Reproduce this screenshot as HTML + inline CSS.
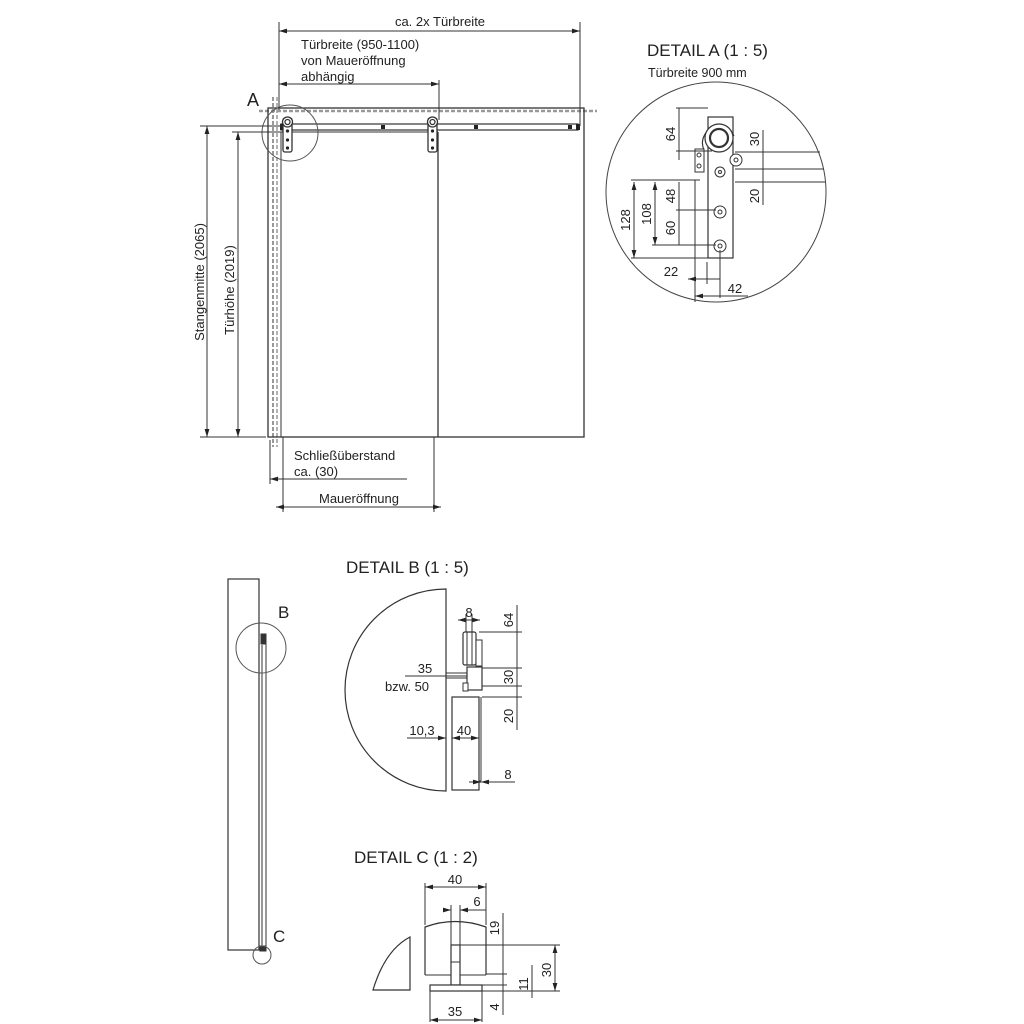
<!DOCTYPE html>
<html><head><meta charset="utf-8"><style>
html,body{margin:0;padding:0;background:#fff;}
svg{display:block;}
text{font-family:"Liberation Sans",sans-serif;fill:#222;}
</style></head><body>
<svg width="1024" height="1024" viewBox="0 0 1024 1024" xmlns="http://www.w3.org/2000/svg">
<defs>
<marker id="ar" viewBox="0 0 10 6" refX="10" refY="3" markerWidth="8" markerHeight="5" orient="auto-start-reverse"><path d="M0,0 L10,3 L0,6 z" fill="#222"/></marker>
</defs>
<g stroke="#333" stroke-width="1" fill="none">
<!-- MAIN -->
<line x1="259" y1="111" x2="597" y2="111" stroke="#999" stroke-width="2.5" stroke-dasharray="4,2"/>
<line x1="273" y1="97" x2="273" y2="447" stroke="#999" stroke-width="2" stroke-dasharray="4,2"/>
<line x1="277" y1="97" x2="277" y2="447" stroke="#999" stroke-width="1.5" stroke-dasharray="4,2"/>
<rect x="268" y="108" width="316" height="329" stroke-width="1.3"/>
<rect x="281" y="124" width="297" height="6" stroke-width="1.2"/>
<line x1="281" y1="132" x2="281" y2="437"/>
<line x1="438" y1="132" x2="438" y2="437" stroke-width="1.3"/>
<line x1="281" y1="132" x2="438" y2="132"/>
<g fill="#222" stroke="none">
<rect x="381" y="125" width="4" height="4"/><rect x="474" y="125" width="4" height="4"/><rect x="568" y="125" width="4" height="4"/><rect x="576" y="124" width="4" height="6"/><rect x="280" y="124" width="4" height="6"/>
</g>
<g stroke-width="1.3">
<rect x="283" y="118" width="9" height="34" rx="2" fill="#fff"/><circle cx="287.5" cy="122" r="5" fill="#fff"/><circle cx="287.5" cy="122" r="2.5"/>
<rect x="428" y="118" width="9" height="34" rx="2" fill="#fff"/><circle cx="432.5" cy="122" r="5" fill="#fff"/><circle cx="432.5" cy="122" r="2.5"/>
</g>
<g fill="#222" stroke="none"><circle cx="287.5" cy="131" r="1.6"/><circle cx="287.5" cy="140" r="1.6"/><circle cx="287.5" cy="148" r="1.6"/><circle cx="432.5" cy="131" r="1.6"/><circle cx="432.5" cy="140" r="1.6"/><circle cx="432.5" cy="148" r="1.6"/></g>
<circle cx="290" cy="133" r="28" stroke="#555"/>
<!-- top dims -->
<line x1="279" y1="31" x2="580" y2="31" marker-start="url(#ar)" marker-end="url(#ar)"/>
<line x1="279" y1="22" x2="279" y2="110"/><line x1="580" y1="22" x2="580" y2="126"/>
<line x1="279" y1="84" x2="439" y2="84" marker-start="url(#ar)" marker-end="url(#ar)"/>
<line x1="439" y1="80" x2="439" y2="120"/>
<!-- left dims -->
<line x1="207" y1="126" x2="207" y2="437" marker-start="url(#ar)" marker-end="url(#ar)"/>
<line x1="238" y1="132" x2="238" y2="437" marker-start="url(#ar)" marker-end="url(#ar)"/>
<line x1="200" y1="126" x2="282" y2="126"/><line x1="232" y1="132" x2="282" y2="132"/>
<line x1="200" y1="437" x2="266" y2="437"/>
<!-- bottom dims -->
<line x1="283" y1="437" x2="283" y2="512"/><line x1="434" y1="437" x2="434" y2="512"/>
<line x1="270" y1="440" x2="270" y2="484"/>
<line x1="270" y1="479" x2="407" y2="479" marker-start="url(#ar)"/>
<line x1="276" y1="507" x2="441" y2="507" marker-start="url(#ar)" marker-end="url(#ar)"/>
<!-- DETAIL A -->
<circle cx="716" cy="192" r="110" stroke="#444"/>
<line x1="735" y1="152" x2="820" y2="152"/><line x1="735" y1="169" x2="824" y2="169"/><line x1="735" y1="182" x2="825" y2="182"/>
<rect x="708" y="117" width="25" height="141" fill="#fff" stroke-width="1.2"/>
<path d="M704,150 A16,16 0 0 1 734,136" stroke-width="1.2"/>
<circle cx="719" cy="138" r="14" fill="#fff" stroke-width="1.2"/><circle cx="719" cy="138" r="9" stroke-width="2.2"/>
<circle cx="736" cy="160" r="6" fill="#fff"/><circle cx="736" cy="160" r="2"/>
<rect x="695" y="149" width="9" height="23" fill="#fff"/><circle cx="699" cy="155" r="2"/><circle cx="699" cy="166" r="2"/>
<line x1="695" y1="180" x2="695" y2="302"/><line x1="631" y1="180" x2="700" y2="180"/>
<circle cx="720" cy="172" r="5"/><circle cx="720" cy="172" r="1.5"/>
<circle cx="720" cy="212" r="6"/><circle cx="720" cy="212" r="2"/>
<circle cx="720" cy="246" r="6"/><circle cx="720" cy="246" r="2"/>
<line x1="679" y1="108" x2="679" y2="160"/><line x1="676" y1="108" x2="708" y2="108"/><line x1="676" y1="151" x2="712" y2="151"/>
<line x1="634" y1="182" x2="634" y2="258" marker-start="url(#ar)" marker-end="url(#ar)"/>
<line x1="655" y1="182" x2="655" y2="245" marker-start="url(#ar)" marker-end="url(#ar)"/>
<line x1="679" y1="182" x2="679" y2="245"/>
<line x1="631" y1="258" x2="708" y2="258"/><line x1="652" y1="245" x2="716" y2="245"/><line x1="676" y1="210" x2="716" y2="210"/>
<line x1="763" y1="130" x2="763" y2="205"/><line x1="760" y1="169" x2="766" y2="169"/>
<line x1="688" y1="279" x2="720" y2="279" marker-start="url(#ar)"/><line x1="707" y1="262" x2="707" y2="284"/><line x1="720" y1="250" x2="720" y2="298"/>
<line x1="695" y1="296" x2="748" y2="296" marker-start="url(#ar)"/>
<!-- DETAIL B -->
<path d="M446,589 A101,101 0 0 0 446,791 Z" stroke-width="1.2"/>
<rect x="463" y="632" width="13" height="33" rx="2" fill="#fff" stroke-width="1.2"/>
<line x1="467" y1="632" x2="467" y2="665"/><line x1="472" y1="632" x2="472" y2="665"/>
<rect x="476" y="640" width="6" height="26" fill="#fff"/>
<rect x="467" y="667" width="15" height="23" fill="#fff" stroke-width="1.2"/>
<rect x="463" y="683" width="5" height="8" fill="#fff"/>
<line x1="446" y1="673" x2="467" y2="673"/><line x1="446" y1="678" x2="467" y2="678"/>
<rect x="452" y="697" width="27" height="93" stroke-width="1.2"/>
<line x1="481" y1="697" x2="481" y2="781"/><line x1="479" y1="781" x2="481" y2="781"/>
<line x1="517" y1="605" x2="517" y2="730"/>
<line x1="479" y1="632" x2="522" y2="632"/><line x1="482" y1="668" x2="522" y2="668"/><line x1="482" y1="686" x2="522" y2="686"/><line x1="482" y1="697" x2="522" y2="697"/>
<line x1="458" y1="620" x2="480" y2="620" marker-start="url(#ar)" marker-end="url(#ar)"/>
<line x1="466" y1="614" x2="466" y2="632"/><line x1="472" y1="614" x2="472" y2="632"/>
<line x1="405" y1="676" x2="467" y2="676"/>
<line x1="407" y1="738" x2="446" y2="738" marker-end="url(#ar)"/>
<line x1="452" y1="738" x2="479" y2="738" marker-start="url(#ar)" marker-end="url(#ar)"/>
<line x1="469" y1="782" x2="481" y2="782" marker-end="url(#ar)"/><line x1="481" y1="782" x2="515" y2="782" marker-start="url(#ar)"/>
<!-- DETAIL C -->
<path d="M373,990 Q385,950 410,937 L410,990 Z" stroke-width="1.2"/>
<path d="M425,975 L425,927 Q455,916 486,927 L486,975" stroke-width="1.2"/>
<line x1="425" y1="975" x2="451" y2="975"/><line x1="460" y1="975" x2="486" y2="975"/>
<rect x="451" y="945" width="9" height="40" fill="#fff" stroke-width="1.2"/><line x1="451" y1="962" x2="460" y2="962"/>
<rect x="430" y="985" width="52" height="6" fill="#fff" stroke-width="1.2"/>
<line x1="425" y1="887" x2="486" y2="887" marker-start="url(#ar)" marker-end="url(#ar)"/>
<line x1="425" y1="883" x2="425" y2="925"/><line x1="486" y1="883" x2="486" y2="925"/>
<line x1="444" y1="910" x2="451" y2="910" marker-end="url(#ar)"/><line x1="460" y1="910" x2="486" y2="910" marker-start="url(#ar)"/>
<line x1="451" y1="905" x2="451" y2="945"/><line x1="460" y1="905" x2="460" y2="945"/>
<line x1="503" y1="913" x2="503" y2="1015"/>
<line x1="460" y1="945" x2="560" y2="945"/><line x1="486" y1="974" x2="507" y2="974"/><line x1="482" y1="985" x2="507" y2="985"/><line x1="482" y1="991" x2="560" y2="991"/>
<line x1="555" y1="945" x2="555" y2="991" marker-start="url(#ar)" marker-end="url(#ar)"/>
<line x1="532" y1="965" x2="532" y2="998"/>
<line x1="430" y1="991" x2="430" y2="1022"/><line x1="482" y1="991" x2="482" y2="1022"/>
<line x1="430" y1="1020" x2="482" y2="1020" marker-start="url(#ar)" marker-end="url(#ar)"/>
<!-- SIDE VIEW -->
<rect x="228" y="579" width="31" height="371" stroke-width="1.2"/>
<line x1="259" y1="640" x2="259" y2="950"/><line x1="262" y1="645" x2="262" y2="950"/><line x1="266" y1="640" x2="266" y2="950"/>
<rect x="261" y="634" width="5" height="10" fill="#333"/>
<circle cx="261" cy="648" r="25" stroke="#555"/>
<rect x="260" y="946" width="6" height="5" fill="#333"/>
<circle cx="262" cy="955" r="9" stroke="#555"/>
</g>
<g font-size="13">
<text x="440" y="26" text-anchor="middle">ca. 2x Türbreite</text>
<text x="301" y="49">Türbreite (950-1100)</text>
<text x="301" y="65">von Maueröffnung</text>
<text x="301" y="81">abhängig</text>
<text x="247" y="106" font-size="18">A</text>
<text transform="translate(204,282) rotate(-90)" text-anchor="middle">Stangenmitte (2065)</text>
<text transform="translate(234,290) rotate(-90)" text-anchor="middle">Türhöhe (2019)</text>
<text x="294" y="460">Schließüberstand</text>
<text x="294" y="476">ca. (30)</text>
<text x="359" y="503" text-anchor="middle">Maueröffnung</text>
<text x="647" y="56" font-size="17">DETAIL A  (1 : 5)</text>
<text x="648" y="77" font-size="12.5">Türbreite 900 mm</text>
<text transform="translate(675,134) rotate(-90)" text-anchor="middle">64</text>
<text transform="translate(630,220) rotate(-90)" text-anchor="middle">128</text>
<text transform="translate(651,214) rotate(-90)" text-anchor="middle">108</text>
<text transform="translate(675,196) rotate(-90)" text-anchor="middle">48</text>
<text transform="translate(675,228) rotate(-90)" text-anchor="middle">60</text>
<text transform="translate(759,139) rotate(-90)" text-anchor="middle">30</text>
<text transform="translate(759,196) rotate(-90)" text-anchor="middle">20</text>
<text x="671" y="276" text-anchor="middle">22</text>
<text x="735" y="293" text-anchor="middle">42</text>
<text x="346" y="573" font-size="17">DETAIL B  (1 : 5)</text>
<text x="469" y="617" text-anchor="middle">8</text>
<text transform="translate(513,620) rotate(-90)" text-anchor="middle">64</text>
<text transform="translate(513,677) rotate(-90)" text-anchor="middle">30</text>
<text transform="translate(513,716) rotate(-90)" text-anchor="middle">20</text>
<text x="425" y="673" text-anchor="middle">35</text>
<text x="407" y="691" text-anchor="middle">bzw. 50</text>
<text x="422" y="735" text-anchor="middle">10,3</text>
<text x="464" y="735" text-anchor="middle">40</text>
<text x="508" y="779" text-anchor="middle">8</text>
<text x="354" y="863" font-size="17">DETAIL C  (1 : 2)</text>
<text x="455" y="884" text-anchor="middle">40</text>
<text x="477" y="906" text-anchor="middle">6</text>
<text transform="translate(499,928) rotate(-90)" text-anchor="middle">19</text>
<text transform="translate(551,970) rotate(-90)" text-anchor="middle">30</text>
<text transform="translate(528,984) rotate(-90)" text-anchor="middle">11</text>
<text transform="translate(499,1007) rotate(-90)" text-anchor="middle">4</text>
<text x="455" y="1016" text-anchor="middle">35</text>
<text x="278" y="618" font-size="17">B</text>
<text x="273" y="942" font-size="17">C</text>
</g>
</svg>
</body></html>
